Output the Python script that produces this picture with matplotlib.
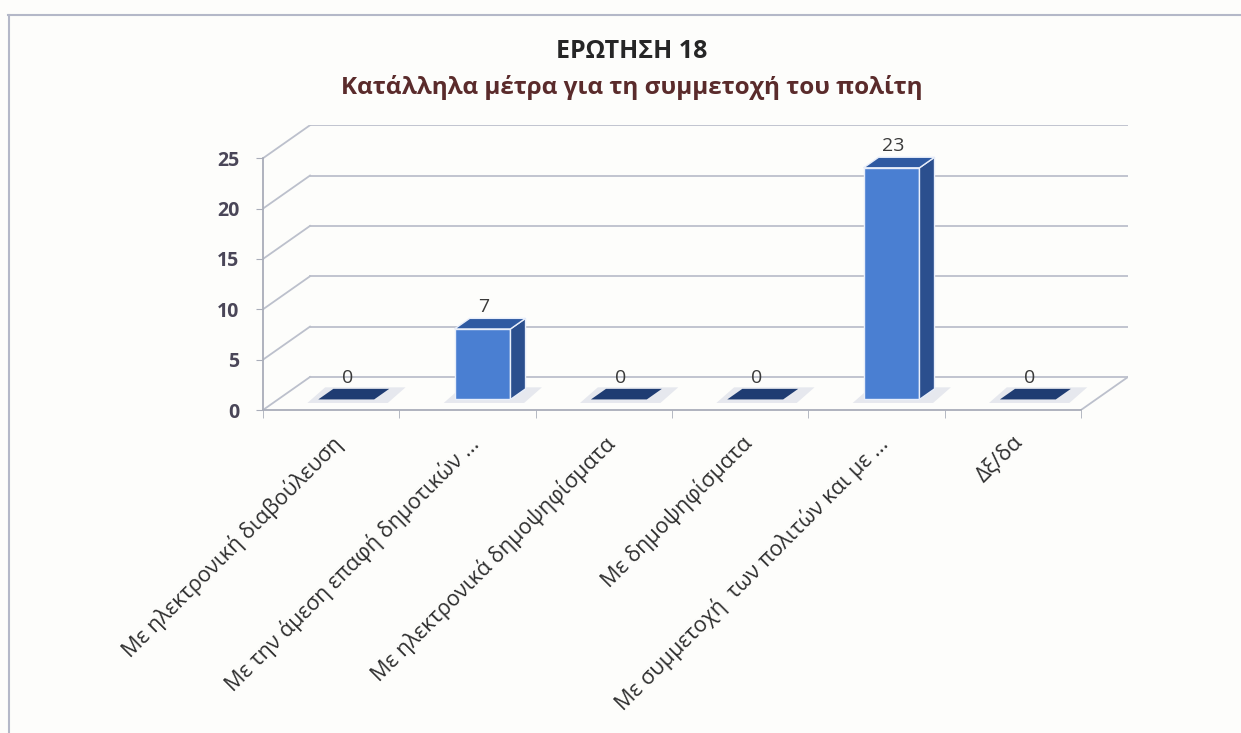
import matplotlib
matplotlib.use("Agg")
import matplotlib.pyplot as plt
from matplotlib.patches import Polygon
from matplotlib.lines import Line2D

plt.rcParams['font.family'] = ['Open Sans', 'DejaVu Sans']

TITLE = "ΕΡΩΤΗΣΗ 18"
SUBTITLE = "Κατάλληλα μέτρα για τη συμμετοχή του πολίτη"
categories = [
    "Με ηλεκτρονική διαβούλευση",
    "Με την άμεση επαφή δημοτικών ...",
    "Με ηλεκτρονικά δημοψηφίσματα",
    "Με δημοψηφίσματα",
    "Με συμμετοχή  των πολιτών και με ...",
    "Δξ/δα",
]
values = [0, 7, 0, 0, 23, 0]
yticks = [0, 5, 10, 15, 20, 25]

# fake 3d: depth of the floor in data units, and where the bars sit in it
DX, DY = 0.345, 3.28
F0, F1 = 0.32, 0.64
BAR_W = 0.41
GRID = "#bcc0cc"

fig = plt.figure(figsize=(12.41, 7.33), dpi=100)
fig.patch.set_facecolor("#fdfdfb")
ax = fig.add_axes([263 / 1241, 323 / 733, 865 / 1241, 285 / 733])
ax.set_facecolor("none")
ax.set_xlim(-0.5, 5.5 + DX)
ax.set_ylim(0, 25 + DY + 0.02)

n = len(categories)
x0, x1 = -0.5, n - 0.5

# walls / floor
for v in yticks:
    ax.plot([x0 + DX, x1 + DX], [v + DY, v + DY], color=GRID, lw=1.3, zorder=1)
    ax.plot([x0, x0 + DX], [v, v + DY], color=GRID, lw=1.3, zorder=1)
ax.plot([x1, x1 + DX], [0, DY], color=GRID, lw=1.3, zorder=1)

# bars
for i, v in enumerate(values):
    bx = i - BAR_W / 2 + F0 * DX
    by = F0 * DY
    ddx, ddy = (F1 - F0) * DX, (F1 - F0) * DY
    # soft shadow on the floor
    ax.add_patch(Polygon([(bx - 0.08, by - 0.35), (bx + BAR_W + 0.1, by - 0.35),
                          (bx + BAR_W + ddx + 0.12, by + ddy + 0.15),
                          (bx + ddx - 0.06, by + ddy + 0.15)],
                         closed=True, facecolor="#e6e8ee", edgecolor="none", zorder=2))
    top = by + v
    if v > 0:
        ax.bar(bx + BAR_W / 2, v, width=BAR_W, bottom=by, color="#4a7fd2",
               edgecolor="#e8eefa", linewidth=1.0, zorder=4)
        ax.add_patch(Polygon([(bx + BAR_W, by), (bx + BAR_W + ddx, by + ddy),
                              (bx + BAR_W + ddx, top + ddy), (bx + BAR_W, top)],
                             closed=True, facecolor="#2b4f8e", edgecolor="#e8eefa",
                             lw=1.0, zorder=4))
        top_col = "#2f5aa2"
    else:
        top_col = "#1f3c72"
    ax.add_patch(Polygon([(bx, top), (bx + BAR_W, top), (bx + BAR_W + ddx, top + ddy),
                          (bx + ddx, top + ddy)],
                         closed=True, facecolor=top_col, edgecolor="#e8eefa" if v > 0 else "none",
                         lw=1.0, zorder=5))
    ax.text(bx + BAR_W / 2 + ddx * 0.1, top + ddy + 0.2, str(v), ha="center", va="bottom",
            fontsize=14, color="#3a3a3a", zorder=6)

# axes
for s in ["top", "right"]:
    ax.spines[s].set_visible(False)
ax.spines["left"].set_bounds(0, 25)
ax.spines["bottom"].set_bounds(x0, x1)
ax.spines["left"].set_color("#a9adb9")
ax.spines["bottom"].set_color("#a9adb9")
ax.spines["left"].set_linewidth(1.3)
ax.spines["bottom"].set_linewidth(1.3)

ax.set_yticks(yticks)
ax.set_yticklabels([str(t) for t in yticks], fontsize=14, fontweight="bold", color="#4a4658")
ax.tick_params(axis="y", length=5, color="#a9adb9", pad=12)

ax.set_xticks([i - 0.5 for i in range(n + 1)], minor=True)
ax.set_xticks(range(n))
ax.set_xticklabels(categories, rotation=45, ha="right", va="top", rotation_mode="anchor",
                   fontsize=15.5, color="#2e2e2e")
ax.tick_params(axis="x", which="major", length=0, pad=16)
ax.tick_params(axis="x", which="minor", length=6, color="#a9adb9", direction="out")

fig.text(0.509, 1 - 52 / 733, TITLE, ha="center", va="center", fontsize=18,
         fontweight="bold", color="#262626")
fig.text(0.509, 1 - 88 / 733, SUBTITLE, ha="center", va="center", fontsize=17.5,
         fontweight="bold", color="#5a2b2b")

# outer frame of the pasted chart
fig.add_artist(Line2D([8 / 1241, 1], [1 - 15 / 733] * 2, color="#b4b8c8", lw=1.5))
fig.add_artist(Line2D([9 / 1241] * 2, [0, 1 - 15 / 733], color="#b4b8c8", lw=1.5))

fig.savefig("out.png", dpi=100, facecolor=fig.get_facecolor())
